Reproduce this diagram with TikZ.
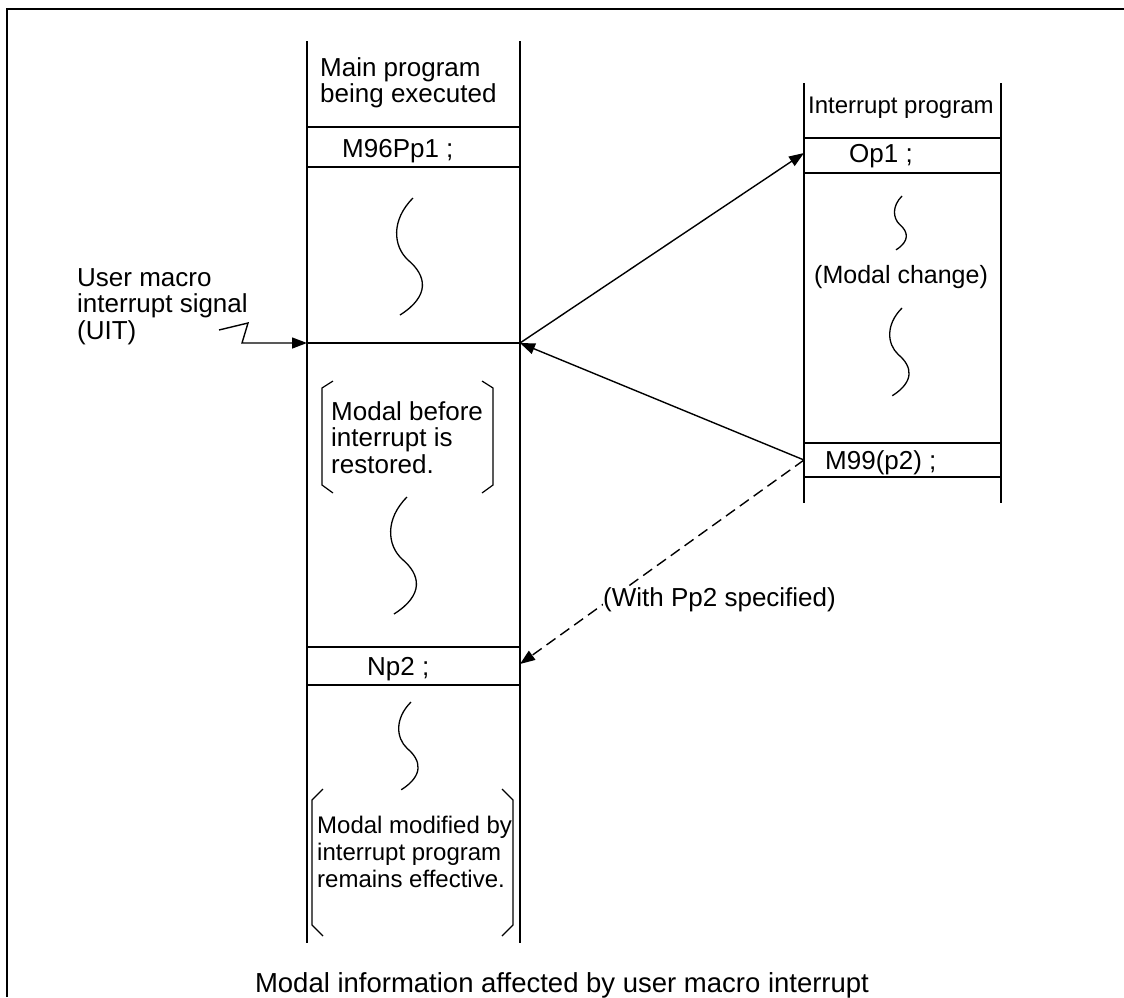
\documentclass[tikz,border=0pt]{standalone}
\usepackage{fontspec}
\setmainfont{Liberation Sans}
\usetikzlibrary{arrows.meta}
\tikzset{
  >={Triangle[length=15pt,width=11pt]},
  every node/.style={inner sep=0pt},
  txt/.style={anchor=base west, font=\fontsize{26}{26.5}\selectfont},
  smalltxt/.style={anchor=base west, font=\fontsize{24}{27}\selectfont},
  para/.style={anchor=north west, align=left, font=\fontsize{26}{26.5}\selectfont},
  col/.style={line width=1.8pt},
  brk/.style={line width=1.2pt},
  wave/.pic={\draw[line width=1.3pt] (0,0) .. controls (-22,22) and (-20,48) .. (-5,62)
      .. controls (14,78) and (17,98) .. (-13,117);},
}

\begin{document}
\begin{tikzpicture}[x=1pt, y=-1pt]
  \useasboundingbox (0,0) rectangle (1124,997);
  \draw[line width=2.2pt] (7,997) -- (7,9) -- (1124,9);

  % main program column
  \draw[col] (307,41) -- (307,943) (520,41) -- (520,943);
  \foreach \y in {127,167,343,647,685} \draw[col] (307,\y) -- (520,\y);
  \coordinate (sigL) at (307,343);
  \coordinate (sigR) at (520,343);
  \coordinate (np2)  at (520,664);
  \node[para] (mainhd) at (320,57.4) {Main program\\being executed};
  \node[txt]  (m96)    at (342,157)  {M96Pp1 ;};
  \node[para] (before) at (331,401.4) {Modal before\\interrupt is\\restored.};
  \node[txt]  (np2txt) at (367,675)  {Np2 ;};
  \node[para, font=\fontsize{24}{27}\selectfont] (after) at (317,815.8)
    {Modal modified by\\interrupt program\\remains effective.};
  \pic at (413,198) {wave};
  \pic at (407,497) {wave};
  \pic[scale=0.75] at (411,702) {wave};
  \draw[brk] (333,381) -- (322,388) -- (322,485) -- (333,493);
  \draw[brk] (482,381) -- (493,388) -- (493,485) -- (482,493);
  \draw[brk] (323,789) -- (312,800) -- (312,925) -- (323,936);
  \draw[brk] (502,789) -- (513,800) -- (513,925) -- (502,936);

  % interrupt signal
  \node[para] (uittxt) at (77,268.4) {User macro\\interrupt signal\\(UIT)};
  \coordinate (uit) at (219,330);
  \draw[->, line width=1.4pt] (uit) -- (248,323) -- (242,343) -- (sigL);

  % interrupt program column
  \draw[col] (804,83) -- (804,503) (1001,83) -- (1001,503);
  \foreach \y in {138,173,443,477} \draw[col] (804,\y) -- (1001,\y);
  \coordinate (op1) at (804,153);
  \coordinate (m99) at (804,460);
  \node[smalltxt] (inthd)  at (808,113) {Interrupt program};
  \node[txt]      (op1txt) at (849,162) {Op1 ;};
  \node[txt, font=\fontsize{25}{26.5}\selectfont] (modal) at (814,283) {(Modal change)};
  \node[txt]      (m99txt) at (825,469) {M99(p2) ;};
  \pic[scale=0.46] at (902,196) {wave};
  \pic[scale=0.75] at (902,308) {wave};

  \path[->, line width=1.4pt]
    (sigR) edge (op1)
    (m99)  edge (sigR)
    (m99)  edge[dash pattern=on 11pt off 6pt] (np2);
  \node[txt, fill=white] (pp2) at (603,606) {(With Pp2 specified)};

  \node[anchor=base, font=\fontsize{27.5}{28}\selectfont] (caption) at (562,992)
    {Modal information affected by user macro interrupt};
\end{tikzpicture}
\end{document}
